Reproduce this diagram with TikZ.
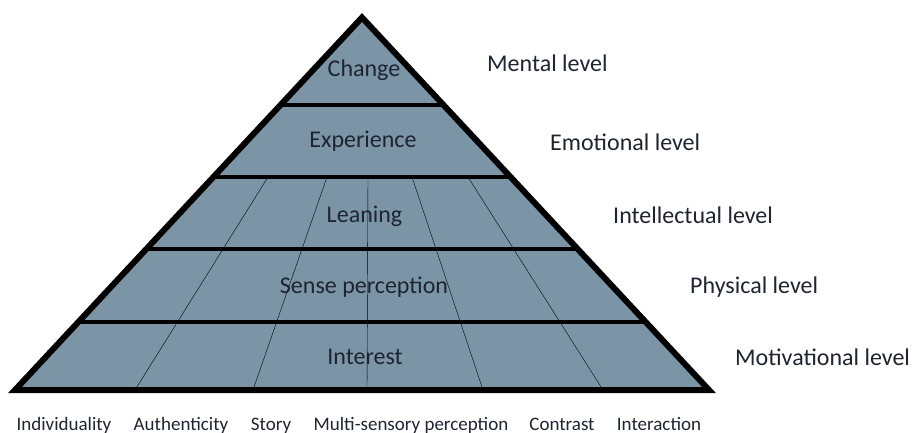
\documentclass[tikz,border=0pt]{standalone}
\usepackage{fontspec}
\setmainfont{Carlito}
\definecolor{pyrfill}{HTML}{7B95A6}
\definecolor{txt}{HTML}{1E2430}
\definecolor{thin}{HTML}{4A6070}
\begin{document}
\begin{tikzpicture}[x=1pt,y=-1pt,
  big/.style={font=\fontsize{24}{28}\selectfont, text=txt, inner sep=0pt, anchor=base},
  lvl/.style={big, anchor=base west},
  bot/.style={font=\fontsize{19}{22}\selectfont, text=txt, inner sep=0pt, anchor=base},
  outline/.style={line width=6pt, line join=miter, black},
  layer/.style={line width=3.5pt, black},
  divider/.style={line width=0.8pt, thin}]
\useasboundingbox (0,0) rectangle (913,433);
\coordinate (apex) at (362,17.5);
\coordinate (bl) at (15,390);
\coordinate (br) at (709,390);
\fill[pyrfill] (apex) -- (bl) -- (br) -- cycle;
\begin{scope}
  \clip (apex) -- (bl) -- (br) -- cycle;
  % thin dividers
  \coordinate (d1b) at (135,390); \coordinate (d1t) at (268,177);
  \coordinate (d2b) at (253,390); \coordinate (d2t) at (327,177);
  \coordinate (d3b) at (367,390); \coordinate (d3t) at (368,177);
  \coordinate (d4b) at (483,390); \coordinate (d4t) at (412,177);
  \coordinate (d5b) at (603,390); \coordinate (d5t) at (468,177);
  \draw[divider] (d1b) -- (d1t);
  \draw[divider] (d2b) -- (d2t);
  \draw[divider] (d3b) -- (d3t);
  \draw[divider] (d4b) -- (d4t);
  \draw[divider] (d5b) -- (d5t);
  % layer lines
  \coordinate (l1a) at (0,105); \coordinate (l1b) at (913,105);
  \coordinate (l2a) at (0,177); \coordinate (l2b) at (913,177);
  \coordinate (l3a) at (0,249); \coordinate (l3b) at (913,249);
  \coordinate (l4a) at (0,322); \coordinate (l4b) at (913,322);
  \draw[layer] (l1a) -- (l1b);
  \draw[layer] (l2a) -- (l2b);
  \draw[layer] (l3a) -- (l3b);
  \draw[layer] (l4a) -- (l4b);
\end{scope}
\draw[outline] (apex) -- (bl) -- (br) -- cycle;
% pyramid texts
\node[big] (change) at (364,77) {Change};
\node[big] (exp) at (363,148) {Experience};
\node[big] (lean) at (364.5,222) {Leaning};
\node[big] (sense) at (364,293) {Sense perception};
\node[big] (interest) at (365,364) {Interest};
% level labels
\node[lvl] (mental) at (487,72) {Mental level};
\node[lvl] (emot) at (550,150) {Emotional level};
\node[lvl] (intel) at (613,223) {Intellectual level};
\node[lvl] (phys) at (690,293) {Physical level};
\node[lvl] (motiv) at (735,365) {Motivational level};
% bottom labels
\node[bot] (indiv) at (64,430) {Individuality};
\node[bot] (auth) at (181,430) {Authenticity};
\node[bot] (story) at (271,430) {Story};
\node[bot] (multi) at (411,430) {Multi-sensory perception};
\node[bot] (contr) at (562,430) {Contrast};
\node[bot] (inter) at (659,430) {Interaction};
\end{tikzpicture}
\end{document}
